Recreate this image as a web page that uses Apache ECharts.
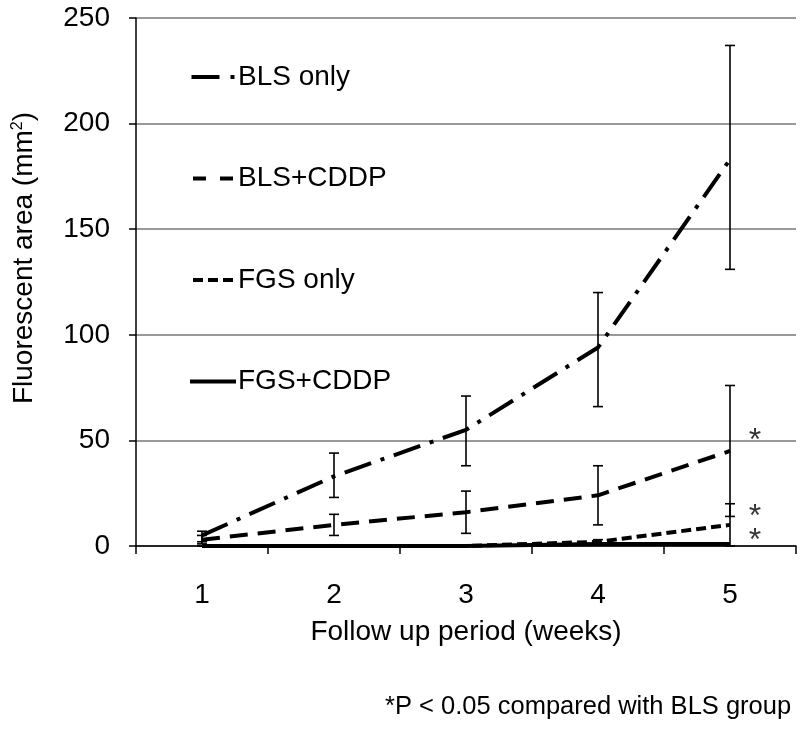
<!DOCTYPE html>
<html><head><meta charset="utf-8">
<script src="https://cdn.jsdelivr.net/npm/echarts@6/dist/echarts.min.js"></script>
<style>html,body{margin:0;padding:0;background:#fff}#c{width:800px;height:756px}</style>
</head><body><div id="c"></div>
<script>
var weeks = ['1', '2', '3', '4', '5'];
var seriesNames = ['BLS only', 'BLS+CDDP', 'FGS only', 'FGS+CDDP'];
var blsOnly = [5, 33, 55, 94, 183];
var blsOnlyLow = [2, 23, 38, 66, 131];
var blsOnlyHigh = [7, 44, 71, 120, 237];
var blsCddp = [3, 10, 16, 24, 45];
var blsCddpLow = [1, 5, 6, 10, 14];
var blsCddpHigh = [5, 15, 26, 38, 76];
var fgsOnly = [0, 0, 0, 2, 10];
var fgsOnlyLow = [0, 0, 0, 1, 0];
var fgsOnlyHigh = [0, 0, 0, 3, 20];
var fgsCddp = [0, 0, 0, 1, 1];
var sigValues = [49.5, 13.5, 2.5];
var yTicks = [0, 50, 100, 150, 200, 250];

var FONT = 'Liberation Sans';
var FS = 28;

var legendIcons = [
  'path://M0,0H28V4H0Z M39,0H43V4H39Z',
  'path://M0,0H13V4H0Z M27,0H40V4H27Z',
  'path://M0,0H10V4H0Z M15,0H25V4H15Z M30,0H40V4H30Z',
  'path://M0,0H47V4H0Z'
];

function errData(lo, hi) {
  return weeks.map(function (w, i) { return [i, lo[i], hi[i]]; });
}
function errRender(params, api) {
  var x = api.value(0);
  var lo = api.coord([x, api.value(1)]);
  var hi = api.coord([x, api.value(2)]);
  var hw = 5;
  var st = { stroke: '#000', lineWidth: 1.6 };
  return {
    type: 'group',
    children: [
      { type: 'line', shape: { x1: lo[0], y1: lo[1], x2: hi[0], y2: hi[1] }, style: st },
      { type: 'line', shape: { x1: hi[0] - hw, y1: hi[1], x2: hi[0] + hw, y2: hi[1] }, style: st },
      { type: 'line', shape: { x1: lo[0] - hw, y1: lo[1], x2: lo[0] + hw, y2: lo[1] }, style: st }
    ]
  };
}
function lineSeries(name, data, dash) {
  return {
    name: name, type: 'line', data: data, symbol: 'none', z: 3,
    lineStyle: { color: '#000', width: 4, type: dash },
    itemStyle: { color: '#000' }
  };
}

var chart = echarts.init(document.getElementById('c'));
chart.setOption({
  animation: false,
  backgroundColor: '#fff',
  textStyle: { fontFamily: FONT },
  grid: { left: 136, right: 4, top: 18, bottom: 210, containLabel: false },
  legend: {
    orient: 'vertical', left: 185, top: 58,
    itemWidth: 46, itemHeight: 4, itemGap: 73.5,
    data: seriesNames.map(function (n, i) { return { name: n, icon: legendIcons[i] }; }),
    itemStyle: { color: '#000', borderWidth: 0 },
    textStyle: { fontFamily: FONT, fontSize: FS, lineHeight: 28, color: '#000', padding: [0, 0, 0, -3] }
  },
  xAxis: {
    type: 'category', data: weeks, boundaryGap: true,
    name: 'Follow up period (weeks)', nameLocation: 'middle', nameGap: 72,
    nameTextStyle: { fontFamily: FONT, fontSize: FS, color: '#000' },
    axisLine: { lineStyle: { color: '#000', width: 1.5 } },
    axisTick: { show: true, length: 8, lineStyle: { color: '#000', width: 1.5 } },
    axisLabel: { fontFamily: FONT, fontSize: FS, color: '#000', margin: 35 },
    splitLine: { show: false }
  },
  yAxis: {
    type: 'value', min: 0, max: 250, interval: 50,
    name: 'Fluorescent area (mm{sup|2})', nameLocation: 'middle', nameGap: 98,
    nameTextStyle: {
      fontFamily: FONT, fontSize: FS, color: '#000', padding: [0, 0, 0, 48],
      rich: { sup: { fontFamily: FONT, fontSize: 16, color: '#000', verticalAlign: 'top', padding: [0, 0, 12, 0] } }
    },
    axisLine: { show: true, lineStyle: { color: '#000', width: 1.5 } },
    axisTick: { show: true, length: 7, lineStyle: { color: '#000', width: 1.5 } },
    axisLabel: { fontFamily: FONT, fontSize: FS, color: '#000', margin: 26,
      formatter: function (v) { return yTicks.indexOf(v) >= 0 ? String(v) : ''; } },
    splitLine: { show: true, lineStyle: { color: '#999', width: 2 } }
  },
  series: [
    lineSeries(seriesNames[0], blsOnly, [28, 10, 4, 10]),
    lineSeries(seriesNames[1], blsCddp, [18, 10]),
    lineSeries(seriesNames[2], fgsOnly, [10, 5]),
    lineSeries(seriesNames[3], fgsCddp, 'solid'),
    { type: 'custom', renderItem: errRender, data: errData(blsOnlyLow, blsOnlyHigh), z: 4, silent: true },
    { type: 'custom', renderItem: errRender, data: errData(blsCddpLow, blsCddpHigh), z: 4, silent: true },
    { type: 'custom', renderItem: errRender, data: errData(fgsOnlyLow, fgsOnlyHigh), z: 4, silent: true },
    {
      type: 'scatter', symbolSize: 0, silent: true, z: 5,
      data: sigValues.map(function (v) { return [4, v]; }),
      label: { show: true, position: 'inside', offset: [25, 0], formatter: '*', fontFamily: FONT, fontSize: 32, color: '#000' }
    }
  ],
  graphic: [{
    type: 'text', left: 385, top: 694,
    style: { text: '*P < 0.05 compared with BLS group', fontFamily: FONT, fontSize: 25.5, fill: '#000' }
  }]
});
</script></body></html>
